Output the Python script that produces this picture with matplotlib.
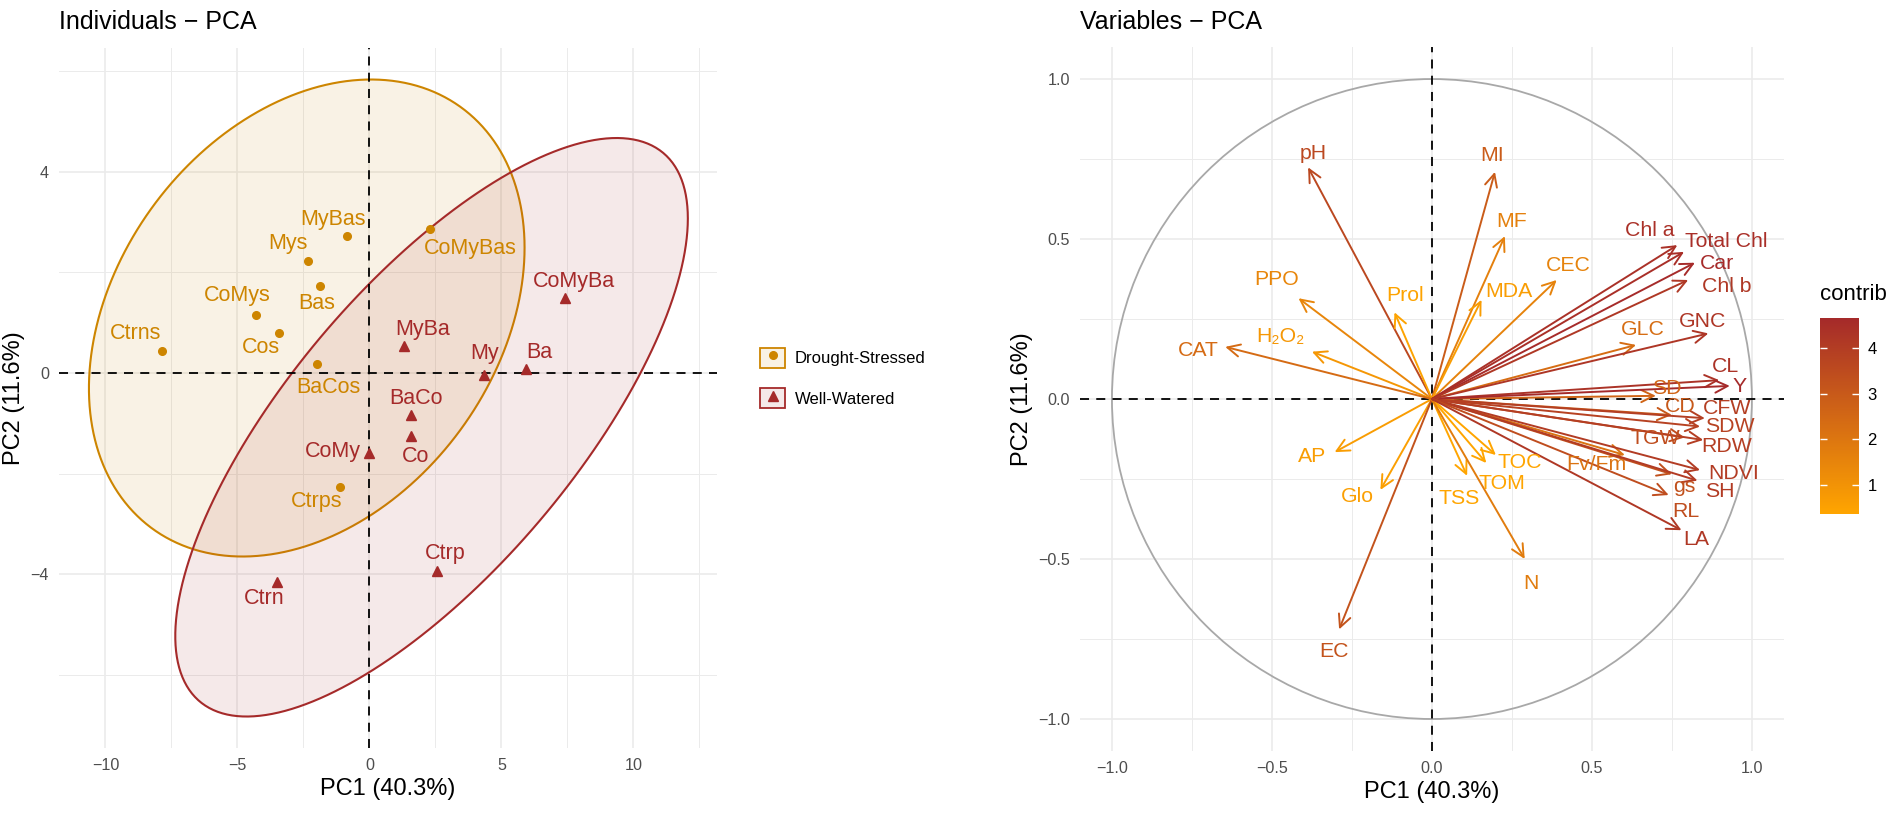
import numpy as np
import matplotlib
matplotlib.use('Agg')
import matplotlib.pyplot as plt
from matplotlib.colors import LinearSegmentedColormap, Normalize, to_rgba
from matplotlib.cm import ScalarMappable
from matplotlib.patches import Circle, Patch
from matplotlib.lines import Line2D
from matplotlib.legend_handler import HandlerTuple

plt.rcParams['font.family'] = ['Liberation Sans', 'DejaVu Sans']

# ---- individuals (PC1, PC2) ----
ind_names = ['Ctrns', 'CoMys', 'Cos', 'Mys', 'Bas', 'MyBas', 'BaCos', 'CoMyBas', 'Ctrps',
             'CoMyBa', 'MyBa', 'My', 'Ba', 'BaCo', 'Co', 'CoMy', 'Ctrp', 'Ctrn']
ind_pc1 = [-7.85, -4.30, -3.42, -2.33, -1.87, -0.85, -1.97, 2.31, -1.11,
           7.39, 1.30, 4.35, 5.93, 1.58, 1.57, 0.0, 2.56, -3.52]
ind_pc2 = [0.43, 1.16, 0.79, 2.22, 1.74, 2.73, 0.19, 2.86, -2.27,
           1.49, 0.54, -0.03, 0.08, -0.83, -1.26, -1.59, -3.93, -4.16]
ind_group = ['Drought-Stressed'] * 9 + ['Well-Watered'] * 9
# where the (repelled) labels ended up
ind_lab_x = [-8.86, -5.0, -4.12, -3.09, -2.01, -1.37, -1.55, 3.81, -2.0,
             7.76, 2.01, 4.36, 6.45, 1.75, 1.73, -1.37, 2.87, -3.99]
ind_lab_y = [0.79, 1.54, 0.50, 2.58, 1.38, 3.06, -0.28, 2.48, -2.55,
             1.82, 0.87, 0.38, 0.40, -0.50, -1.66, -1.56, -3.58, -4.47]

groups = ['Drought-Stressed', 'Well-Watered']
group_colors = {'Drought-Stressed': '#CD8500', 'Well-Watered': '#A52A2A'}
group_markers = {'Drought-Stressed': 'o', 'Well-Watered': '^'}

# ---- variables (correlation with PC1, PC2) ----
var_names = ['pH', 'MI', 'MF', 'CEC', 'MDA', 'Prol', 'PPO', 'H\u2082O\u2082', 'CAT',
             'AP', 'Glo', 'EC', 'TSS', 'TOM', 'TOC', 'N', 'Fv/Fm', 'TGW',
             'CD', 'CFW', 'SDW', 'RDW', 'SD', 'CL', 'Y', 'GLC', 'GNC',
             'Chl a', 'Total Chl', 'Car', 'Chl b', 'NDVI', 'gs', 'SH', 'RL', 'LA']
var_pc1 = [-0.387, 0.197, 0.228, 0.390, 0.155, -0.117, -0.417, -0.375, -0.646,
           -0.304, -0.161, -0.290, 0.110, 0.170, 0.200, 0.290, 0.603, 0.790,
           0.750, 0.853, 0.838, 0.848, 0.700, 0.898, 0.931, 0.638, 0.864,
           0.767, 0.788, 0.822, 0.801, 0.838, 0.750, 0.830, 0.740, 0.780]
var_pc2 = [0.724, 0.710, 0.509, 0.372, 0.310, 0.271, 0.315, 0.148, 0.163,
           -0.166, -0.284, -0.720, -0.240, -0.200, -0.175, -0.500, -0.175, -0.120,
           -0.050, -0.060, -0.086, -0.128, 0.010, 0.059, 0.041, 0.169, 0.205,
           0.481, 0.460, 0.426, 0.372, -0.222, -0.235, -0.255, -0.300, -0.410]
var_lab_x = [-0.372, 0.188, 0.249, 0.425, 0.242, -0.084, -0.485, -0.473, -0.730,
             -0.373, -0.233, -0.305, 0.085, 0.220, 0.275, 0.310, 0.515, 0.697,
             0.775, 0.921, 0.931, 0.921, 0.733, 0.916, 0.962, 0.660, 0.847,
             0.681, 0.921, 0.890, 0.921, 0.942, 0.790, 0.900, 0.795, 0.825]
var_lab_y = [0.766, 0.762, 0.554, 0.416, 0.335, 0.323, 0.374, 0.195, 0.153,
             -0.180, -0.305, -0.790, -0.310, -0.265, -0.198, -0.575, -0.206, -0.122,
             -0.024, -0.029, -0.086, -0.149, 0.033, 0.101, 0.038, 0.216, 0.242,
             0.528, 0.492, 0.424, 0.353, -0.232, -0.272, -0.288, -0.350, -0.440]

pc1_pct, pc2_pct = 40.3, 11.6


def norm_ellipse(x, y, level=0.95, segments=200):
    # same construction as ggplot2::stat_ellipse(type = "norm")
    pts = np.column_stack([x, y])
    n = len(pts)
    center = pts.mean(axis=0)
    chol = np.linalg.cholesky(np.cov(pts, rowvar=False)).T
    dfd = n - 1
    fq = dfd / 2 * ((1 - level) ** (-2 / dfd) - 1)   # qf(level, 2, dfd)
    radius = np.sqrt(2 * fq)
    t = np.linspace(0, 2 * np.pi, segments)
    circ = np.column_stack([np.cos(t), np.sin(t)])
    return center + radius * circ @ chol


def style_axes(ax, major_x, minor_x, major_y, minor_y):
    ax.set_xticks(major_x)
    ax.set_xticks(minor_x, minor=True)
    ax.set_yticks(major_y)
    ax.set_yticks(minor_y, minor=True)
    ax.grid(which='major', color='#EBEBEB', lw=1.2)
    ax.grid(which='minor', color='#EBEBEB', lw=0.7)
    ax.set_axisbelow(True)
    for s in ax.spines.values():
        s.set_visible(False)
    ax.tick_params(which='both', length=0, labelsize=11.6, labelcolor='#4D4D4D', pad=7)


fig = plt.figure(figsize=(19.02, 8.18), dpi=100)

# ---------------- Individuals ----------------
ax1 = fig.add_axes([0.0309, 0.0856, 0.3463, 0.8557])
ind_pc1 = np.array(ind_pc1)
ind_pc2 = np.array(ind_pc2)
ind_group = np.array(ind_group)

for g in groups:
    m = ind_group == g
    ell = norm_ellipse(ind_pc1[m], ind_pc2[m])
    ax1.fill(ell[:, 0], ell[:, 1], facecolor=to_rgba(group_colors[g], 0.1),
             edgecolor=group_colors[g], lw=1.5, zorder=2)

ax1.axhline(0, color='black', ls=(0, (5, 4)), lw=1.3, zorder=3)
ax1.axvline(0, color='black', ls=(0, (5, 4)), lw=1.3, zorder=3)

for g in groups:
    m = ind_group == g
    ax1.plot(ind_pc1[m], ind_pc2[m], ls='none', marker=group_markers[g],
             color=group_colors[g], markersize=5.5 if g == groups[0] else 6.5, zorder=4)

for name, g, lx, ly in zip(ind_names, ind_group, ind_lab_x, ind_lab_y):
    ax1.text(lx, ly, name, color=group_colors[g], fontsize=15.5,
             ha='center', va='center', zorder=5)

ax1.set_xlim(-11.77, 13.18)
ax1.set_ylim(-7.45, 6.46)
style_axes(ax1, [-10, -5, 0, 5, 10], [-7.5, -2.5, 2.5, 7.5, 12.5],
           [-4, 0, 4], [-6, -2, 2, 6])
ax1.set_xlabel(f'PC1 ({pc1_pct}%)', fontsize=17, labelpad=4)
ax1.set_ylabel(f'PC2 ({pc2_pct}%)', fontsize=17, labelpad=4)
fig.text(0.0309, 1 - 22 / 818, 'Individuals \u2212 PCA', fontsize=18, ha='left', va='center')

handles = []
for g in groups:
    p = Patch(facecolor=to_rgba(group_colors[g], 0.1), edgecolor=group_colors[g], lw=1.3)
    mk = Line2D([], [], ls='none', marker=group_markers[g], color=group_colors[g],
                markersize=5.5 if g == groups[0] else 6.5)
    handles.append((p, mk))
fig.legend(handles=handles, labels=groups,
           handler_map={tuple: HandlerTuple(ndivide=1, pad=0)},
           loc='center left', bbox_to_anchor=(745 / 1902, 1 - 378 / 818), frameon=False,
           fontsize=12, handlelength=1.5, handleheight=1.5, labelspacing=1.2,
           handletextpad=0.6)

# ---------------- Variables ----------------
ax2 = fig.add_axes([0.5678, 0.0819, 0.3701, 0.8606])
var_pc1 = np.array(var_pc1)
var_pc2 = np.array(var_pc2)
contrib = 100 * (var_pc1 ** 2 + var_pc2 ** 2) / ((pc1_pct + pc2_pct) / 100 * len(var_names))

cmap = LinearSegmentedColormap.from_list('contrib', ['#FFA500', '#A52A2A'])
norm = Normalize(vmin=contrib.min(), vmax=contrib.max())

ax2.add_patch(Circle((0, 0), 1, fill=False, edgecolor='#A8A8A8', lw=1.3, zorder=2))
ax2.axhline(0, color='black', ls=(0, (5, 4)), lw=1.3, zorder=3)
ax2.axvline(0, color='black', ls=(0, (5, 4)), lw=1.3, zorder=3)

for x, y, c in zip(var_pc1, var_pc2, contrib):
    ax2.annotate('', xy=(x, y), xytext=(0, 0),
                 arrowprops=dict(arrowstyle='->,head_length=0.45,head_width=0.22',
                                 color=cmap(norm(c)), lw=1.4, shrinkA=0, shrinkB=0,
                                 mutation_scale=20), zorder=4)

for name, lx, ly, c in zip(var_names, var_lab_x, var_lab_y, contrib):
    ax2.text(lx, ly, name, color=cmap(norm(c)), fontsize=15.3,
             ha='center', va='center', zorder=5)

ax2.set_xlim(-1.1, 1.1)
ax2.set_ylim(-1.1, 1.1)
ax2.set_aspect('equal')
ticks = [-1.0, -0.5, 0.0, 0.5, 1.0]
minor = [-0.75, -0.25, 0.25, 0.75]
style_axes(ax2, ticks, minor, ticks, minor)
ax2.set_xticklabels([f'{t:.1f}'.replace('-', '\u2212') for t in ticks])
ax2.set_yticklabels([f'{t:.1f}'.replace('-', '\u2212') for t in ticks])
ax2.set_xlabel(f'PC1 ({pc1_pct}%)', fontsize=17, labelpad=4)
ax2.set_ylabel(f'PC2 ({pc2_pct}%)', fontsize=17, labelpad=4)
fig.text(0.5678, 1 - 22 / 818, 'Variables \u2212 PCA', fontsize=18, ha='left', va='center')

cax = fig.add_axes([0.9569, 0.3716, 0.0205, 0.2396])
cb = fig.colorbar(ScalarMappable(norm=norm, cmap=cmap), cax=cax, ticks=[1, 2, 3, 4])
cb.outline.set_visible(False)
cax.yaxis.set_ticks_position('both')
cax.tick_params(direction='in', color='white', length=5, width=1, labelsize=12,
                labelcolor='black', labelleft=False, labelright=True, pad=6)
fig.text(0.9569, 1 - 295 / 818, 'contrib', fontsize=16, ha='left', va='center')

fig.savefig('out.png', dpi=100)
